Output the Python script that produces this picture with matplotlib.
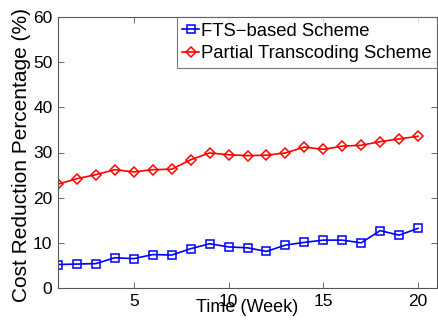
import matplotlib.pyplot as plt
import numpy as np

plt.rcParams['font.family'] = ['Liberation Sans', 'DejaVu Sans']

weeks = np.arange(1, 21)
fts = [5.2, 5.3, 5.4, 6.7, 6.5, 7.4, 7.3, 8.7, 9.8, 9.1,
       8.9, 8.1, 9.5, 10.1, 10.6, 10.6, 10.0, 12.7, 11.7, 13.2]
partial = [23.0, 24.2, 25.1, 26.2, 25.7, 26.2, 26.3, 28.4, 29.9, 29.5,
           29.3, 29.4, 29.9, 31.2, 30.7, 31.4, 31.6, 32.4, 33.0, 33.6]

fig = plt.figure(figsize=(4.38, 3.21), dpi=100)
ax = fig.add_axes([58 / 438, 1 - 288 / 321, 379 / 438, 271 / 321])

ax.plot(weeks, fts, 's-', color='#0000ff', mfc='none', ms=5.5, lw=1.2,
        mew=1.1, label='FTS\u2212based Scheme')
ax.plot(weeks, partial, 'D-', color='#ff0000', mfc='none', ms=5.5, lw=1.2,
        mew=1.1, label='Partial Transcoding Scheme')

ax.set_xlim(1, 21)
ax.set_ylim(0, 60)
ax.set_xticks([5, 10, 15, 20])
ax.set_yticks(np.arange(0, 61, 10))
ax.tick_params(direction='in', top=True, right=True, labelsize=12.5,
               length=4, width=0.6, colors='#555555', labelcolor='black',
               pad=4)
for s in ax.spines.values():
    s.set_color('#555555')
    s.set_linewidth(0.8)

ax.set_xlabel('Time (Week)', fontsize=13, labelpad=-7)
ax.set_ylabel('Cost Reduction Percentage (%)', fontsize=15)
ax.yaxis.set_label_coords(-0.07, 0.49)

leg = ax.legend(loc='upper right', fontsize=13.3, frameon=True, fancybox=False,
                borderaxespad=0, handlelength=0.9, handletextpad=0.1,
                borderpad=0.3, labelspacing=0.3)
leg.get_frame().set_edgecolor('#555555')
leg.get_frame().set_linewidth(0.8)

fig.savefig('out.png', dpi=100)
